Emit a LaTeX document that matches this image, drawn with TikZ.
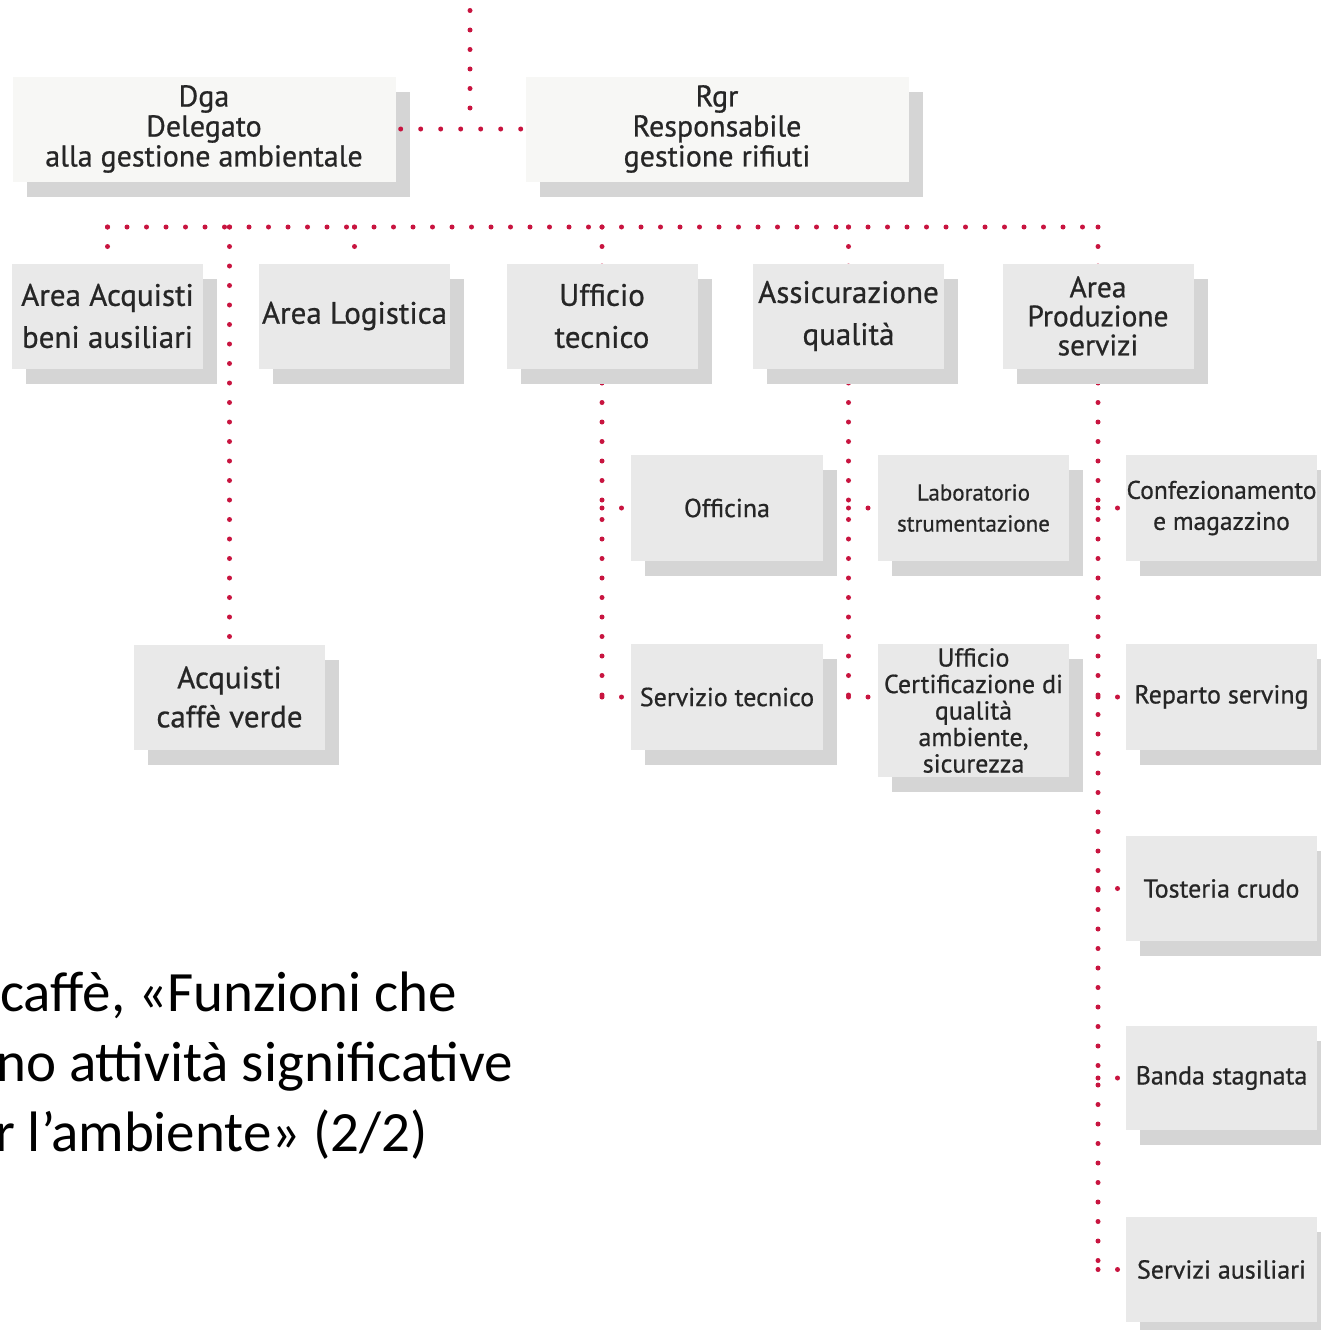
\documentclass[tikz,border=0pt]{standalone}
\usepackage{fontspec}
\setmainfont{Carlito}
\newfontfamily\boxfont{PT Sans}[FakeBold=0.7]
\usetikzlibrary{shadows,backgrounds}

\definecolor{dotred}{HTML}{C8143F}
\definecolor{boxfill}{HTML}{E9E9E9}
\definecolor{topfill}{HTML}{F7F7F5}
\definecolor{shadowgray}{HTML}{D5D5D5}
\definecolor{inkgray}{HTML}{262626}

\tikzset{
  box/.style={fill=boxfill, text=inkgray, inner sep=0pt, align=center,
    minimum width=191pt, minimum height=105pt,
    font=\boxfont\fontsize{31}{42}\selectfont,
    general shadow={fill=shadowgray, shadow xshift=14pt, shadow yshift=-15pt}},
  topbox/.style={box, fill=topfill, minimum width=383pt,
    font=\boxfont\fontsize{30}{30}\selectfont},
  subbox/.style={box, minimum width=192pt, minimum height=106pt,
    font=\boxfont\fontsize{26}{31}\selectfont},
  dotline/.style={draw=dotred, line width=5pt, line cap=round,
    dash pattern=on 0pt off 19.5pt},
  captext/.style={anchor=base west, inner sep=0pt, text=black,
    font=\fontsize{57}{70}\selectfont},
}

\begin{document}
\begin{tikzpicture}[x=1pt,y=-1pt]
\useasboundingbox (0,0) rectangle (1321,1330);
\clip (0,0) rectangle (1321,1330);

% top level
\node[topbox] (dga) at (204,129) {Dga\\Delegato\\alla gestione ambientale};
\node[topbox] (rgr) at (717,129) {Rgr\\Responsabile\\gestione rifiuti};

% second level
\node[box] (aq) at (107.5,316) {Area Acquisti\\beni ausiliari};
\node[box] (al) at (354.5,316) {Area Logistica};
\node[box] (ut) at (602,316) {Ufficio\\tecnico};
\node[box] (as) at (848.5,316) {Assicurazione\\qualità};
\node[box, font=\boxfont\fontsize{29.5}{29}\selectfont] (ap) at (1098,316) {Area\\Produzione\\servizi};

% third level
\node[box, font=\boxfont\fontsize{31}{39}\selectfont] (acv) at (229.5,697) {Acquisti\\caffè verde};
\node[subbox] (off) at (727,508) {Officina};
\node[subbox] (st) at (727,697) {Servizio tecnico};
\node[subbox, minimum width=191pt, font=\boxfont\fontsize{23}{31}\selectfont] (lab) at (973.5,508) {Laboratorio\\strumentazione};
\node[subbox, minimum width=191pt, minimum height=133pt, font=\boxfont\fontsize{26}{26.5}\selectfont] (cert) at (973.5,710.5) {Ufficio\\Certificazione di\\qualità\\ambiente,\\sicurezza};
\node[subbox, minimum width=191pt, font=\boxfont\fontsize{25.5}{31}\selectfont] (conf) at (1221.5,508) {Confezionamento\\e magazzino};
\node[subbox, minimum width=191pt] (rep) at (1221.5,697) {Reparto serving};
\node[subbox, minimum width=191pt, minimum height=105pt] (tost) at (1221.5,888.5) {Tosteria crudo};
\node[subbox, minimum width=191pt, minimum height=104pt] (banda) at (1221.5,1078) {Banda stagnata};
\node[subbox, minimum width=191pt, minimum height=105pt] (serv) at (1221.5,1269.5) {Servizi ausiliari};

% connectors between the two heads and upwards
\coordinate (mid) at (470,108);
\coordinate (up) at (470,8);
\draw[dotline, dash pattern=on 0pt off 20pt, shorten <=5pt] (dga.east) -- (rgr.west);
\draw[dotline] (mid) -- (up);

% bus and branches, behind the boxes
\coordinate (busy) at (0,227);
\begin{scope}[on background layer]
  \draw[dotline] (aq.north |- busy) -- (acv.north |- busy);
  \draw[dotline] (acv.north |- busy) -- (al.north |- busy);
  \draw[dotline] (al.north |- busy) -- (ut.north |- busy);
  \draw[dotline] (ut.north |- busy) -- (as.north |- busy);
  \draw[dotline] (as.north |- busy) -- (ap.north |- busy);

  \draw[dotline] (aq.north |- busy) -- (aq.north);
  \draw[dotline] (al.north |- busy) -- (al.north);
  \draw[dotline] (acv.north |- busy) -- (acv.north);

  \draw[dotline] (ut.north |- busy) -- (ut.north |- st.west);
  \draw[dotline] (as.north |- busy) -- (as.north |- st.west);
  \draw[dotline] (ap.north |- busy) -- (ap.north |- serv.west);

  \draw[dotline] (ut.north |- off.west) -- (off.west);
  \draw[dotline] (ut.north |- st.west) -- (st.west);
  \draw[dotline] (as.north |- lab.west) -- (lab.west);
  \draw[dotline] (as.north |- st.west) -- (cert.west |- st.west);
  \draw[dotline] (ap.north |- conf.west) -- (conf.west);
  \draw[dotline] (ap.north |- rep.west) -- (rep.west);
  \draw[dotline] (ap.north |- tost.west) -- (tost.west);
  \draw[dotline] (ap.north |- banda.west) -- (banda.west);
  \draw[dotline] (ap.north |- serv.west) -- (serv.west);
\end{scope}

% caption text
\node[captext] (cap1) at (0,1011) {caffè, «Funzioni che};
\node[captext] (cap2) at (-4,1081) {no attività significative};
\node[captext] (cap3) at (-5,1151) {r l’ambiente» (2/2)};
\end{tikzpicture}
\end{document}
